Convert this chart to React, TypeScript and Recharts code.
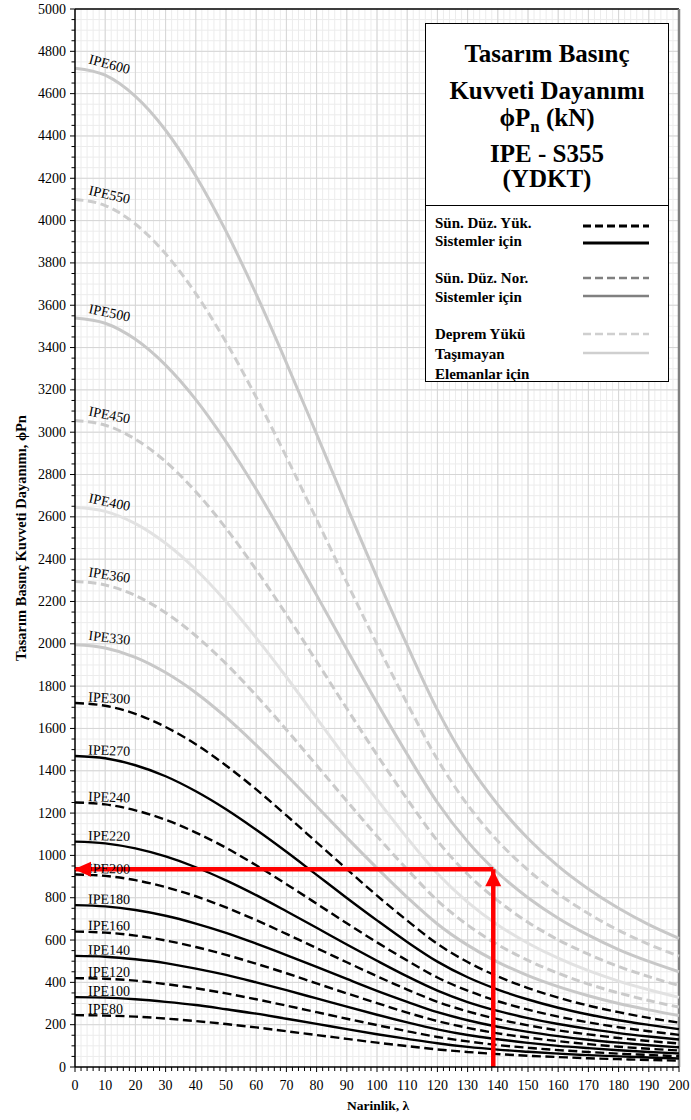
import React from "react";
import { LineChart, Line, XAxis, YAxis, CartesianGrid, ReferenceLine } from "recharts";

// ---- Data (kN) ----
const lambda = [0, 10, 20, 30, 40, 50, 60, 70, 80, 90, 100, 110, 120, 130, 140, 150, 160, 170, 180, 190, 200];

const ipe80 = [245, 243, 238, 229, 217, 203, 187, 169, 151, 133, 115, 99, 83, 71, 61, 53, 47, 41, 37, 33, 30];
const ipe100 = [330, 328, 320, 308, 293, 273, 252, 228, 204, 179, 155, 133, 112, 95, 82, 72, 63, 56, 50, 45, 40];
const ipe120 = [420, 417, 408, 392, 372, 348, 320, 290, 259, 228, 198, 169, 142, 121, 104, 91, 80, 71, 63, 57, 51];
const ipe140 = [525, 521, 509, 491, 465, 435, 400, 363, 324, 285, 247, 211, 178, 151, 131, 114, 100, 89, 79, 71, 64];
const ipe160 = [640, 635, 621, 598, 567, 530, 488, 443, 395, 348, 302, 257, 217, 185, 159, 139, 122, 108, 96, 86, 78];
const ipe180 = [765, 759, 742, 715, 678, 634, 583, 529, 473, 416, 360, 308, 259, 221, 190, 166, 146, 129, 115, 103, 93];
const ipe200 = [910, 903, 883, 850, 807, 754, 694, 629, 562, 495, 429, 366, 308, 263, 226, 197, 173, 154, 137, 123, 111];
const ipe220 = [1065, 1057, 1033, 995, 944, 882, 812, 736, 658, 579, 502, 428, 361, 307, 265, 231, 203, 180, 160, 144, 130];
const ipe240 = [1250, 1241, 1213, 1168, 1108, 1036, 953, 864, 772, 679, 589, 503, 423, 361, 311, 271, 238, 211, 188, 169, 152];
const ipe270 = [1470, 1459, 1426, 1374, 1303, 1218, 1121, 1017, 908, 799, 693, 591, 498, 424, 366, 319, 280, 248, 221, 199, 179];
const ipe300 = [1720, 1707, 1669, 1607, 1525, 1425, 1312, 1189, 1062, 935, 810, 692, 582, 496, 428, 373, 328, 290, 259, 232, 210];
const ipe330 = [1995, 1980, 1936, 1864, 1769, 1653, 1521, 1380, 1232, 1084, 940, 802, 676, 576, 496, 432, 380, 337, 300, 270, 243];
const ipe360 = [2295, 2278, 2228, 2147, 2038, 1906, 1756, 1594, 1426, 1257, 1091, 934, 787, 671, 578, 504, 443, 392, 350, 314, 283];
const ipe400 = [2645, 2626, 2568, 2475, 2351, 2200, 2028, 1843, 1649, 1455, 1265, 1083, 914, 779, 671, 585, 514, 455, 406, 365, 329];
const ipe450 = [3055, 3033, 2967, 2861, 2719, 2546, 2350, 2138, 1917, 1694, 1475, 1266, 1069, 911, 786, 684, 601, 533, 475, 427, 385];
const ipe500 = [3540, 3515, 3439, 3317, 3154, 2955, 2730, 2485, 2230, 1973, 1720, 1478, 1250, 1065, 918, 800, 703, 623, 555, 499, 450];
const ipe550 = [4100, 4071, 3984, 3843, 3655, 3426, 3165, 2883, 2588, 2290, 1998, 1718, 1454, 1239, 1068, 931, 818, 725, 646, 580, 524];
const ipe600 = [4720, 4687, 4587, 4427, 4211, 3950, 3652, 3328, 2991, 2650, 2314, 1992, 1688, 1438, 1240, 1080, 949, 841, 750, 673, 608];

const sectionNames = [
  "IPE600", "IPE550", "IPE500", "IPE450", "IPE400", "IPE360", "IPE330",
  "IPE300", "IPE270", "IPE240", "IPE220", "IPE200", "IPE180", "IPE160",
  "IPE140", "IPE120", "IPE100", "IPE80",
];
const sectionValues = [
  ipe600, ipe550, ipe500, ipe450, ipe400, ipe360, ipe330,
  ipe300, ipe270, ipe240, ipe220, ipe200, ipe180, ipe160,
  ipe140, ipe120, ipe100, ipe80,
];

// red reading arrow
const arrowLambda = 138.5;
const arrowLoad = 935;

const xMajor = [10, 20, 30, 40, 50, 60, 70, 80, 90, 100, 110, 120, 130, 140, 150, 160, 170, 180, 190];
const yMajor = [200, 400, 600, 800, 1000, 1200, 1400, 1600, 1800, 2000, 2200, 2400, 2600, 2800, 3000, 3200, 3400, 3600, 3800, 4000, 4200, 4400, 4600, 4800];
const xTicks = Array.from({ length: 101 }, (_, i) => i * 2);
const yTicks = Array.from({ length: 101 }, (_, i) => i * 50);

const FONT = '"Liberation Serif", "Times New Roman", Times, serif';

// ---- Styles ----
interface SeriesStyle {
  color: string;
  dash?: string;
  width: number;
  angle: number;
  dy: number;
}

const BLK_DASH = "9 4.5";
const GRY_DASH = "8.5 4.5";
const black = (dashed: boolean, angle: number): SeriesStyle => ({
  color: "#000", dash: dashed ? BLK_DASH : undefined, width: 2.4, angle, dy: -1.5,
});
const gray = (color: string, dashed: boolean, angle: number): SeriesStyle => ({
  color, dash: dashed ? GRY_DASH : undefined, width: 3, angle, dy: -5,
});

const seriesStyle: Record<string, SeriesStyle> = {
  IPE600: gray("#c8c8c8", false, 15),
  IPE550: gray("#cdcdcd", true, 13),
  IPE500: gray("#c8c8c8", false, 12),
  IPE450: gray("#cacaca", true, 11),
  IPE400: gray("#e2e2e2", false, 12),
  IPE360: gray("#cacaca", true, 9),
  IPE330: gray("#c8c8c8", false, 7),
  IPE300: black(true, 3),
  IPE270: black(false, 2),
  IPE240: black(true, 2),
  IPE220: black(false, 1),
  IPE200: black(true, 1),
  IPE180: black(false, 0.5),
  IPE160: black(true, 0.5),
  IPE140: black(false, 0.5),
  IPE120: black(true, 0),
  IPE100: black(false, 0),
  IPE80: black(true, 0),
};

const series = sectionNames.map((name, i) => ({
  name,
  points: lambda.map((l, j) => ({ x: l, y: sectionValues[i][j] })),
}));

const hArrow = [{ x: 0, y: arrowLoad }, { x: arrowLambda, y: arrowLoad }];
const vArrow = [{ x: arrowLambda, y: 0 }, { x: arrowLambda, y: arrowLoad }];

// ---- Ticks ----
const YTick = (props: any) => {
  const { x, y, payload } = props;
  const v = payload.value as number;
  const major = v % 200 === 0;
  return (
    <g>
      <line x1={x - (major ? 5 : 3.5)} x2={x} y1={y} y2={y} stroke="#000" strokeWidth={1} />
      {major && (
        <text x={x - 9} y={y} textAnchor="end" dominantBaseline="central" fontSize={14} fontFamily={FONT} fill="#000">
          {v}
        </text>
      )}
    </g>
  );
};

const XTick = (props: any) => {
  const { x, y, payload } = props;
  const v = payload.value as number;
  const major = v % 10 === 0;
  return (
    <g>
      <line x1={x} x2={x} y1={y} y2={y + (major ? 5 : 4)} stroke="#000" strokeWidth={1} />
      {major && (
        <text x={x} y={y + 18} textAnchor="middle" dominantBaseline="central" fontSize={14} fontFamily={FONT} fill="#000">
          {v}
        </text>
      )}
    </g>
  );
};

const labelDot = (name: string, st: SeriesStyle) => (p: any) => {
  const { cx, cy, index } = p;
  if (index !== 0) return <g key={`${name}-d${index}`} />;
  const tx = cx + 13;
  const ty = cy + st.dy;
  return (
    <text
      key={`${name}-lbl`}
      x={tx}
      y={ty}
      transform={`rotate(${st.angle} ${tx} ${ty})`}
      fontSize={14}
      fontFamily={FONT}
      fill="#000"
    >
      {name}
    </text>
  );
};

const leftHead = (p: any) => {
  const { cx, cy, index } = p;
  if (index !== 0) return <g key={`ha-${index}`} />;
  const t = cx - 1;
  return <polygon key="ha-head" points={`${t},${cy} ${t + 17},${cy - 7.5} ${t + 17},${cy + 7.5}`} fill="#ff0000" />;
};

const upHead = (p: any) => {
  const { cx, cy, index } = p;
  if (index !== 1) return <g key={`va-${index}`} />;
  const t = cy + 1;
  return <polygon key="va-head" points={`${cx},${t} ${cx - 8},${t + 16} ${cx + 8},${t + 16}`} fill="#ff0000" />;
};

// ---- Legend box ----
const titleLines = [
  { top: 30, text: "Tasarım Basınç" },
  { top: 67, text: "Kuvveti Dayanımı" },
  { top: 130, text: "IPE - S355" },
  { top: 155, text: "(YDKT)" },
];

const legendText = [
  { top: 199, text: "Sün. Düz. Yük." },
  { top: 217, text: "Sistemler için" },
  { top: 254, text: "Sün. Düz. Nor." },
  { top: 273, text: "Sistemler için" },
  { top: 310, text: "Deprem Yükü" },
  { top: 330, text: "Taşımayan" },
  { top: 350, text: "Elemanlar için" },
];

const legendSamples = [
  { y: 202, color: "#000", dash: "8 4", width: 3 },
  { y: 219, color: "#000", dash: undefined, width: 3 },
  { y: 254, color: "#808080", dash: "8 4", width: 2.5 },
  { y: 272, color: "#808080", dash: undefined, width: 2.5 },
  { y: 310, color: "#cfcfcf", dash: "8 4", width: 2.5 },
  { y: 329, color: "#cfcfcf", dash: undefined, width: 2.5 },
];

function LegendBox() {
  return (
    <div
      style={{
        position: "absolute",
        left: 425,
        top: 23,
        width: 244,
        height: 359,
        border: "1px solid #000",
        boxSizing: "border-box",
        background: "#fff",
        fontFamily: FONT,
        color: "#000",
      }}
    >
      {titleLines.map((l) => (
        <div
          key={l.text}
          style={{
            position: "absolute", left: 0, right: 0, top: l.top - 15, height: 30, lineHeight: "30px",
            textAlign: "center", fontSize: 25, fontWeight: "bold", whiteSpace: "nowrap",
          }}
        >
          {l.text}
        </div>
      ))}
      <div
        style={{
          position: "absolute", left: 0, right: 0, top: 94 - 15, height: 30, lineHeight: "30px",
          textAlign: "center", fontSize: 25, fontWeight: "bold", whiteSpace: "nowrap",
        }}
      >
        ϕP<span style={{ fontSize: 17, position: "relative", top: 6 }}>n</span> (kN)
      </div>
      <div style={{ position: "absolute", left: 0, right: 0, top: 181, borderTop: "1px solid #000" }} />
      {legendText.map((l, i) => (
        <div
          key={i}
          style={{
            position: "absolute", left: 9, top: l.top - 10, height: 20, lineHeight: "20px",
            fontSize: 15, fontWeight: "bold", whiteSpace: "nowrap",
          }}
        >
          {l.text}
        </div>
      ))}
      <svg width={244} height={359} style={{ position: "absolute", left: 0, top: 0 }}>
        {legendSamples.map((s, i) => (
          <line
            key={i}
            x1={157}
            x2={223}
            y1={s.y}
            y2={s.y}
            stroke={s.color}
            strokeWidth={s.width}
            strokeDasharray={s.dash}
          />
        ))}
      </svg>
    </div>
  );
}

export default function App() {
  return (
    <div
      style={{
        position: "absolute",
        left: 0,
        top: 0,
        width: 691,
        height: 1120,
        background: "#fff",
        fontFamily: FONT,
      }}
    >
      <LineChart width={691} height={1120} margin={{ top: 9, right: 12, left: 0, bottom: 23 }}>
        <CartesianGrid stroke="#ececec" strokeWidth={1} />
        <XAxis
          type="number"
          dataKey="x"
          domain={[0, 200]}
          ticks={xTicks}
          interval={0}
          tick={<XTick />}
          tickLine={false}
          tickSize={0}
          tickMargin={0}
          height={30}
          axisLine={{ stroke: "#000", strokeWidth: 1.5 }}
          allowDuplicatedCategory={false}
        />
        <YAxis
          type="number"
          dataKey="y"
          domain={[0, 5000]}
          ticks={yTicks}
          interval={0}
          tick={<YTick />}
          tickLine={false}
          tickSize={0}
          tickMargin={0}
          width={75}
          axisLine={{ stroke: "#000", strokeWidth: 1.5 }}
        />
        {xMajor.map((v) => (
          <ReferenceLine key={`gx${v}`} x={v} stroke="#d6d6d6" strokeWidth={1} />
        ))}
        {yMajor.map((v) => (
          <ReferenceLine key={`gy${v}`} y={v} stroke="#d6d6d6" strokeWidth={1} />
        ))}
        <ReferenceLine y={5000} stroke="#000" strokeWidth={1.5} />
        <ReferenceLine x={200} stroke="#808080" strokeWidth={2.5} />

        {series.map((s) => {
          const st = seriesStyle[s.name];
          return (
            <Line
              key={s.name}
              data={s.points}
              dataKey="y"
              name={s.name}
              type="monotone"
              stroke={st.color}
              strokeWidth={st.width}
              strokeDasharray={st.dash}
              dot={labelDot(s.name, st)}
              activeDot={false}
              isAnimationActive={false}
            />
          );
        })}

        <Line
          data={hArrow}
          dataKey="y"
          type="linear"
          stroke="#ff0000"
          strokeWidth={4.5}
          dot={leftHead}
          activeDot={false}
          isAnimationActive={false}
        />
        <Line
          data={vArrow}
          dataKey="y"
          type="linear"
          stroke="#ff0000"
          strokeWidth={4.5}
          dot={upHead}
          activeDot={false}
          isAnimationActive={false}
        />
      </LineChart>

      <LegendBox />

      <div
        style={{
          position: "absolute",
          left: 21,
          top: 538,
          transform: "translate(-50%, -50%) rotate(-90deg)",
          whiteSpace: "nowrap",
          fontSize: 14.5,
          fontWeight: "bold",
          color: "#000",
        }}
      >
        Tasarım Basınç Kuvveti Dayanımı, ϕPn
      </div>
      <div
        style={{
          position: "absolute",
          left: 378,
          top: 1106,
          transform: "translate(-50%, -50%)",
          whiteSpace: "nowrap",
          fontSize: 13.5,
          fontWeight: "bold",
          color: "#000",
        }}
      >
        Narinlik, λ
      </div>
    </div>
  );
}
